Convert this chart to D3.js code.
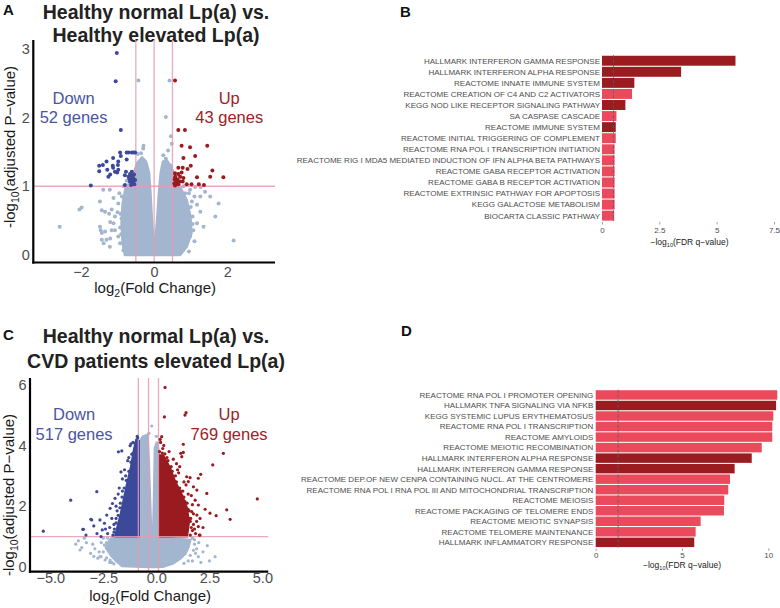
<!DOCTYPE html>
<html><head><meta charset="utf-8">
<script src="https://cdn.jsdelivr.net/npm/d3@7"></script>
<style>
body{margin:0;background:#fff}
svg{display:block;font-family:"Liberation Sans",Arial,Helvetica,sans-serif}
</style>
</head><body>
<svg id="fig" width="780" height="608"></svg>
<script>
// ---------------- DATA ----------------
// Panel A: volcano (Healthy normal vs Healthy elevated)
const titleA = ["Healthy normal Lp(a) vs.", "Healthy elevated Lp(a)"];
const annotA = ["Down", "52 genes", "Up", "43 genes"];
const xTicksA = [-2, 0, 2];
const yTicksA = [0, 1, 2, 3];
const vlinesA = [-0.5, 0, 0.5];
const hlineA = 1;
// dense non-significant cloud outline [log2FC, -log10 p]
const cloudA = [[-0.80,0],[-0.86,0.17],[-0.89,0.46],[-0.86,0.75],[-0.79,0.95],[-0.68,1.05],[-0.55,1.2],[-0.45,1.35],[-0.33,1.42],[-0.22,1.36],[-0.14,1.2],[-0.10,0.9],[-0.06,0.5],[-0.02,0.2],[0,0.1],[0.03,0.2],[0.08,0.5],[0.13,0.9],[0.18,1.2],[0.24,1.36],[0.34,1.38],[0.45,1.3],[0.55,1.18],[0.71,0.99],[0.89,0.80],[0.99,0.56],[1.02,0.32],[0.89,0.12],[0.71,0]];
const nsA = [[-0.43,2.54],[0.42,2.54],[0.32,2.01],[0.46,1.73],[-0.29,1.59],[-0.3,1.55],[-0.45,1.47],[-0.36,1.48],[0.25,1.45],[0.32,1.40],[0.38,1.52],[0.48,1.62],[0.45,1.3],
 [-1.39,0.95],[-1.21,0.95],[-1.48,0.78],[-2.04,0.66],[-1.98,0.69],[-2.58,0.41],[-1.48,0.41],[-1.43,0.32],[-1.30,0.22],[-1.21,0.12],[-1.07,0.36],[-0.98,0.27],[-1.07,0.56],[-1.16,0.66],[-0.98,0.75],[-1.11,0.83],[-0.89,0.53],[-0.84,0.17],[-1.43,0.65],[-1.34,0.63],[-1.23,0.60],[-1.20,0.48],[-1.11,0.46],[-1.16,0.36],[-1.46,0.36],[-1.34,0.34],[-1.43,0.22],[-1.38,0.17],[-1.20,0.24],[-0.93,0.17],[-0.84,0.07],[-0.95,0.9],[-1.0,0.62],[-0.93,0.4],
 [-0.9,0.3],[-0.92,0.6],[-0.88,0.85],[-0.83,1.0],[-0.75,1.08],[1.0,0.7],[1.05,0.45],[0.95,0.9],[0.8,1.0],[0.65,1.1],
 [1.27,0.99],[1.12,0.99],[0.98,0.95],[1.26,0.85],[1.39,0.92],[1.03,0.78],[1.17,0.73],[1.26,0.63],[1.05,0.56],[1.17,0.46],[1.07,0.36],[0.98,0.27],[0.84,0.12],[1.76,0.75],[1.67,0.56],[1.53,0.85],[2.17,0.21],[1.35,0.41],[0.85,0.9],[1.1,0.85],[1.1,0.2],[0.95,0.05]];
const downA = [[-1.02,2.94],[-1.05,2.53],[-0.91,1.82],[-0.93,1.49],[-0.75,1.49],[-0.70,1.49],[-0.61,1.49],[-0.56,1.49],[-0.52,1.49],[-1.12,1.41],[-0.91,1.44],[-0.98,1.36],[-0.75,1.39],[-1.50,1.30],[-1.40,1.31],[-1.30,1.36],[-1.13,1.30],[-0.99,1.31],[-1.50,1.22],[-1.28,1.24],[-1.07,1.21],[-0.98,1.24],[-1.01,1.20],[-1.25,1.14],[-1.20,1.17],[-0.77,1.21],[-0.80,1.16],[-0.70,1.14],[-0.66,1.18],[-0.61,1.15],[-0.57,1.12],[-0.61,1.09],[-0.66,1.07],[-0.57,1.07],[-0.52,1.09],[-0.55,1.17],[-0.61,1.21],[-1.73,1.01],[-0.80,1.02],[-1.12,1.27],[-0.59,1.04],[-0.54,1.03],[-0.63,1.02],[-0.68,1.11]];
const upA = [[0.57,2.54],[0.66,1.82],[0.84,1.82],[0.75,1.59],[0.98,1.57],[1.45,1.59],[0.80,1.41],[1.12,1.44],[0.66,1.27],[0.78,1.27],[0.91,1.25],[1.0,1.30],[1.59,1.23],[0.57,1.19],[0.66,1.18],[0.75,1.20],[0.71,1.14],[0.80,1.12],[1.17,1.13],[1.53,1.14],[1.89,1.13],[0.57,1.12],[0.62,1.07],[0.60,1.03],[0.66,1.03],[0.71,1.07],[0.78,1.07],[0.89,1.03],[1.02,1.03],[1.22,1.03],[1.36,1.02],[0.56,1.10],[0.60,1.08],[0.55,1.04],[0.63,1.10],[0.58,1.14],[0.57,1.01]];

// Panel C: volcano (Healthy normal vs CVD patients elevated)
const titleC = ["Healthy normal Lp(a) vs.", "CVD patients elevated Lp(a)"];
const annotC = ["Down", "517 genes", "Up", "769 genes"];
const xTicksC = [-5, -2.5, 0, 2.5, 5];
const yTicksC = [0, 2, 4, 6];
const vlinesC = [-0.85, -0.37, 0.1];
const hlineC = 1;
const cloudC = [[-0.34,0],[-1.0,0.02],[-1.62,0.03],[-1.90,0.2],[-2.15,0.39],[-2.38,0.63],[-2.22,0.86],[-2.0,1.05],[-1.5,1.15],[-0.82,1.25],[-0.82,4.1],[-0.62,4.3],[-0.42,4.35],[-0.36,3.5],[-0.30,2.2],[-0.25,1.22],[-0.21,0.5],[-0.16,0.9],[-0.11,2.2],[-0.07,3.9],[0.02,4.1],[0.12,3.8],[0.13,0.99],[0.9,0.93],[1.6,0.89],[1.52,0.67],[1.38,0.45],[1.15,0.29],[0.8,0.12],[0.33,0.01],[-0.06,0]];
const massDownC = [[-0.82,1.0],[-0.82,4.15],[-0.95,4.2],[-1.05,3.9],[-1.2,3.3],[-1.4,2.7],[-1.55,2.2],[-1.7,1.7],[-1.85,1.3],[-1.95,1.0]];
const massUpC = [[0.13,1.0],[0.13,3.68],[0.32,3.68],[0.65,3.26],[0.88,2.83],[1.21,2.37],[1.45,1.94],[1.54,1.48],[1.45,1.0]];
const nsC = [[-3.68,0.86],[-3.52,0.64],[-3.6,0.56],[-2.76,0.29],[-2.61,0.34],[-2.42,0.23],[-3.3,0.8],[-3.0,0.75],[-2.9,0.6],[-3.1,0.45],[-2.5,0.95],[-2.6,0.8],[-3.4,0.95],[-3.8,0.75],[-2.2,0.15],[-2.0,0.1],[-2.95,0.35],[-2.7,0.5],[-2.66,0.34],[-2.18,0.23],[-2.35,0.8],
 [-1.6,0.05],[-2.5,0.5],[-2.35,0.3],[-2.1,0.15],[-2.45,0.72],[-2.3,0.95],[1.5,0.2],[1.75,0.55],[1.8,0.75],[1.3,0.12],[1.7,0.95],[1.6,0.38],
 [1.98,0.34],[2.77,0.34],[1.9,0.6],[2.0,0.8],[1.8,0.9],[2.2,0.5],[2.4,0.7],[1.7,0.2],[2.1,0.15],[2.5,0.2],[1.85,0.45],[-0.22,4.64],[-0.35,4.4],[0.0,4.3]];
const downC = [[-5.33,1.18],[-4.04,2.20],[-3.09,1.57],[-3.44,1.24],[-3.32,1.05],[-2.66,1.55],[-2.45,1.44],[-2.55,1.22],[-2.61,1.0],[-2.34,1.71],[-1.63,3.82],[-1.24,3.99],[-1.16,3.71],[-1.67,3.13],[-1.95,2.26],[-2.07,2.09],[-2.18,1.93],[-2.2,1.3],[-2.1,1.6],[-1.9,2.0],[-1.8,2.4],[-1.6,2.9],[-1.5,3.2],[-1.35,3.5],[-1.2,4.05],[-2.3,1.1],[-2.0,1.15],[-1.75,2.6],[-1.45,3.0],[-2.4,1.25],[-2.8,1.1],[-2.95,1.35],[-1.85,1.85],[-1.3,3.6],[-1.1,4.1],[-0.9,4.3],[-1.79,3.79],[-2.81,2.48],[-3.05,1.55],[-3.47,1.24],[-2.0,1.4],[-1.9,1.6],[-1.7,2.1],[-1.6,2.5],
 [-2.05,1.05],[-1.98,1.25],[-1.9,1.45],[-1.8,1.7],[-1.72,1.95],[-1.62,2.3],[-1.52,2.6],[-1.42,2.85],[-1.3,3.15],[-1.2,3.45],[-1.1,3.75],[-1.0,4.05],[-0.88,4.25]];
const upC = [[0.41,5.91],[0.38,4.94],[1.35,5.0],[1.40,5.08],[0.25,4.29],[1.27,4.04],[1.15,3.74],[1.27,3.77],[1.2,3.63],[3.16,3.74],[2.66,3.36],[2.09,3.05],[1.43,2.97],[1.59,2.94],[1.51,2.81],[1.75,2.64],[1.98,2.92],[2.38,2.42],[1.91,2.53],[1.83,2.20],[1.98,2.04],[1.67,1.82],[1.91,1.71],[2.06,1.60],[1.98,1.33],[2.06,1.05],[4.76,2.24],[2.53,1.77],[2.82,1.69],[3.32,1.88],[3.48,1.57],[2.03,1.05],
 [0.3,3.9],[0.2,4.1],[0.5,3.6],[0.7,3.3],[0.9,3.0],[1.1,2.6],[1.3,2.3],[1.5,1.9],[1.6,1.5],[1.7,1.2],[0.6,3.8],[0.95,3.4],[1.05,3.1],[1.25,2.5],[1.45,2.1],[1.55,1.6],[1.75,1.4],[1.85,1.1],[1.1,3.3],[0.8,3.55],[1.65,2.35],[1.4,2.7],[2.2,1.3],[2.3,1.9],[0.15,3.8],[0.18,4.2],[0.28,3.75],[0.35,4.0],
 [0.4,3.72],[0.55,3.5],[0.75,3.15],[0.95,2.8],[1.15,2.5],[1.35,2.15],[1.55,1.85],[1.62,1.6],[1.65,1.3],[1.6,1.05],[1.8,1.25],[1.9,1.5],[1.75,1.75],[1.7,2.05],[1.5,2.4],[1.3,2.8],[1.0,3.2]];

// Panel B: enrichment bars
const catsB = ["HALLMARK INTERFERON GAMMA RESPONSE","HALLMARK INTERFERON ALPHA RESPONSE","REACTOME INNATE IMMUNE SYSTEM","REACTOME CREATION OF C4 AND C2 ACTIVATORS","KEGG NOD LIKE RECEPTOR SIGNALING PATHWAY","SA CASPASE CASCADE","REACTOME IMMUNE SYSTEM","REACTOME INITIAL TRIGGERING OF COMPLEMENT","REACTOME RNA POL I TRANSCRIPTION INITIATION","REACTOME RIG I MDA5 MEDIATED INDUCTION OF IFN ALPHA BETA PATHWAYS","REACTOME GABA RECEPTOR ACTIVATION","REACTOME GABA B RECEPTOR ACTIVATION","REACTOME EXTRINSIC PATHWAY FOR APOPTOSIS","KEGG GALACTOSE METABOLISM","BIOCARTA CLASSIC PATHWAY"];
const valsB = [5.82,3.45,1.41,1.31,1.02,0.63,0.60,0.60,0.55,0.55,0.55,0.55,0.55,0.55,0.53];
const groupB = [1,1,1,0,1,0,1,0,0,0,0,0,0,0,0];
const ticksB = [0, 2.5, 5, 7.5];
const threshB = 0.5;

// Panel D: enrichment bars
const catsD = ["REACTOME RNA POL I PROMOTER OPENING","HALLMARK TNFA SIGNALING VIA NFKB","KEGG SYSTEMIC LUPUS ERYTHEMATOSUS","REACTOME RNA POL I TRANSCRIPTION","REACTOME AMYLOIDS","REACTOME MEIOTIC RECOMBINATION","HALLMARK INTERFERON ALPHA RESPONSE","HALLMARK INTERFERON GAMMA RESPONSE","REACTOME DEP.OF NEW CENPA CONTAINING NUCL. AT THE CENTROMERE","REACTOME RNA POL I RNA POL III AND MITOCHONDRIAL TRANSCRIPTION","REACTOME MEIOSIS","REACTOME PACKAGING OF TELOMERE ENDS","REACTOME MEIOTIC SYNAPSIS","REACTOME TELOMERE MAINTENANCE","HALLMARK INFLAMMATORY RESPONSE"];
const valsD = [10.52,10.45,10.29,10.23,10.23,9.62,9.04,8.05,7.78,7.68,7.45,7.43,6.08,5.79,5.71];
const groupD = [0,1,0,0,0,0,1,1,0,0,0,0,0,0,1];
const ticksD = [0, 5, 10];
const threshD = 1.3;

// ---------------- DRAWING ----------------
const FONT = '"Liberation Sans",Arial,Helvetica,sans-serif';
const GRAY = "#a3b6cf", BLUE = "#3c4899", RED = "#9a1b1f", PINK = "#e79bb1";
const BLUE_T = "#4a55a4", RED_T = "#9c2326";
const DARK_BAR = "#9a1c21", LIGHT_BAR = "#ea4a5b";
const svg = d3.select("#fig");
svg.append("rect").attr("width",780).attr("height",608).attr("fill","#fff");

function panelLetter(t, x, y){
  svg.append("text").attr("x",x).attr("y",y).attr("font-size",15).attr("font-weight","bold").attr("fill","#111").text(t);
}

function volcano(o){
  const g = svg.append("g");
  const x = d3.scaleLinear().domain(o.xd).range(o.xr);
  const y = d3.scaleLinear().domain(o.yd).range(o.yr);
  const poly = d3.line().x(d=>x(d[0])).y(d=>y(d[1])).curve(d3.curveLinearClosed);
  o.title.forEach((t,i)=>{
    g.append("text").attr("x",o.tx).attr("y",o.ty[i]).attr("text-anchor","middle")
     .attr("font-size",19.5).attr("font-weight","bold").attr("fill","#222").text(t);
  });
  g.append("path").attr("d",poly(o.cloud)).attr("fill",GRAY).attr("stroke",GRAY)
   .attr("stroke-width",2.5).attr("stroke-linejoin","round");
  g.selectAll(null).data(o.ns).join("circle").attr("cx",d=>x(d[0])).attr("cy",d=>y(d[1]))
   .attr("r",o.r).attr("fill",GRAY);
  if (o.massDown) g.append("path").attr("d",poly(o.massDown)).attr("fill",BLUE).attr("stroke",BLUE).attr("stroke-width",2).attr("stroke-linejoin","round");
  if (o.massUp) g.append("path").attr("d",poly(o.massUp)).attr("fill",RED).attr("stroke",RED).attr("stroke-width",2).attr("stroke-linejoin","round");
  o.vlines.forEach(v=>{
    g.append("line").attr("x1",x(v)).attr("x2",x(v)).attr("y1",o.yr[1]).attr("y2",o.yr[0])
     .attr("stroke",PINK).attr("stroke-width",1.3).attr("opacity",0.85);
  });
  g.append("line").attr("x1",o.xr[0]).attr("x2",o.xr[1]).attr("y1",y(o.hline)).attr("y2",y(o.hline))
   .attr("stroke",PINK).attr("stroke-width",1.3).attr("opacity",0.85);
  g.selectAll(null).data(o.down).join("circle").attr("cx",d=>x(d[0])).attr("cy",d=>y(d[1])).attr("r",o.r).attr("fill",BLUE);
  g.selectAll(null).data(o.up).join("circle").attr("cx",d=>x(d[0])).attr("cy",d=>y(d[1])).attr("r",o.r).attr("fill",RED);
  const ann = [[o.ann[0],o.ax[0],o.ay[0],BLUE_T],[o.ann[1],o.ax[0],o.ay[1],BLUE_T],[o.ann[2],o.ax[1],o.ay[0],RED_T],[o.ann[3],o.ax[1],o.ay[1],RED_T]];
  ann.forEach(a=>{
    g.append("text").attr("x",x(a[1])).attr("y",y(a[2])).attr("text-anchor","middle")
     .attr("font-size",16.5).attr("fill",a[3]).text(a[0]);
  });
  const ya = g.append("g").attr("transform",`translate(${o.xr[0]},0)`)
    .call(d3.axisLeft(y).tickValues(o.yt).tickSize(0).tickPadding(3.5).tickFormat(d3.format("d")));
  const xa = g.append("g").attr("transform",`translate(0,${o.yr[0]})`)
    .call(d3.axisBottom(x).tickValues(o.xt).tickSize(0).tickPadding(o.xpad).tickFormat(o.xf));
  [ya,xa].forEach(a=>{
    a.select(".domain").remove();
    a.attr("font-family",FONT);
    a.selectAll("text").attr("font-size",14.5).attr("fill","#4d4d4d");
  });
  g.append("line").attr("x1",o.xr[0]).attr("x2",o.xr[0]).attr("y1",o.yr[1]).attr("y2",o.yr[0]+1.1)
   .attr("stroke","#000").attr("stroke-width",2.2);
  g.append("line").attr("x1",o.xr[0]-1.1).attr("x2",o.xr[1]).attr("y1",o.yr[0]).attr("y2",o.yr[0])
   .attr("stroke","#000").attr("stroke-width",2.2);
  const xt = g.append("text").attr("x",(o.xr[0]+o.xr[1])/2+1).attr("y",o.xty).attr("text-anchor","middle")
    .attr("font-size",15).attr("fill","#1a1a1a");
  xt.append("tspan").text("log");
  xt.append("tspan").attr("font-size",10.5).attr("dy",4).text("2");
  xt.append("tspan").attr("dy",-4).text("(Fold Change)");
  const yt = g.append("text").attr("transform",`translate(${o.ytx},${o.yty}) rotate(-90)`).attr("text-anchor","middle")
    .attr("font-size",15).attr("fill","#1a1a1a");
  yt.append("tspan").text("-log");
  yt.append("tspan").attr("font-size",10.5).attr("dy",4).text("10");
  yt.append("tspan").attr("dy",-4).text("(adjusted P\u2212value)");
}

volcano({xd:[-3.3,3.3], xr:[33.3,275], yd:[-0.11,3.13], yr:[262.5,40],
  title:titleA, tx:156, ty:[18.5,41.5], cloud:cloudA, ns:nsA, down:downA, up:upA, r:2,
  vlines:vlinesA, hline:hlineA, ann:annotA, ax:[-2.2,2.05], ay:[2.2,1.92],
  xt:xTicksA, yt:yTicksA, xf:d3.format("d"), xpad:4, xty:293, ytx:15, yty:147});

volcano({xd:[-5.96,5.28], xr:[30,268.3], yd:[-0.155,6.22], yr:[571.7,378],
  title:titleC, tx:156, ty:[342.7,368.3], cloud:cloudC, ns:nsC, massDown:massDownC, massUp:massUpC,
  down:downC, up:upC, r:1.6,
  vlines:vlinesC, hline:hlineC, ann:annotC, ax:[-3.88,3.43], ay:[4.84,4.18],
  xt:xTicksC, yt:yTicksC, xf:d3.format(".1f"), xpad:1.5, xty:601, ytx:14, yty:495});

function bars(o){
  const g = svg.append("g");
  const x = d3.scaleLinear().domain(o.xd).range(o.xr);
  const y = d3.scaleBand().domain(o.cats).range(o.yr).paddingInner(0.1).paddingOuter(0.05);
  g.selectAll(null).data(o.cats).join("rect")
   .attr("x",x(0)).attr("y",d=>y(d)).attr("height",y.bandwidth())
   .attr("width",(d,i)=>x(o.vals[i])-x(0))
   .attr("fill",(d,i)=>o.group[i]?DARK_BAR:LIGHT_BAR);
  g.selectAll(null).data(o.cats).join("text")
   .attr("x",o.lx).attr("y",d=>y(d)+y.bandwidth()/2).attr("dy","0.36em")
   .attr("text-anchor","end").attr("font-size",8).attr("fill","#4d4d4d").text(d=>d);
  g.append("line").attr("x1",x(o.thr)).attr("x2",x(o.thr)).attr("y1",o.yr[0]).attr("y2",o.yr[1])
   .attr("stroke","#5a5a6e").attr("stroke-width",0.8).attr("stroke-dasharray","3,2");
  const ax = g.append("g").attr("transform",`translate(0,${o.yr[1]+0.8})`)
   .call(d3.axisBottom(x).tickValues(o.ticks).tickSize(2.5).tickPadding(o.tp).tickFormat(d3.format("~g")));
  ax.select(".domain").remove();
  ax.attr("font-family",FONT);
  ax.selectAll("line").attr("stroke","#8a8a8a").attr("stroke-width",0.8);
  ax.selectAll("text").attr("font-size",8).attr("fill","#4d4d4d");
  const t = g.append("text").attr("x",o.tx).attr("y",o.ty).attr("text-anchor","middle").attr("font-size",8.5).attr("fill","#1a1a1a");
  t.append("tspan").text("\u2212log");
  t.append("tspan").attr("font-size",5.5).attr("dy",2).text("10");
  t.append("tspan").attr("dy",-2).text("(FDR q\u2212value)");
}

bars({cats:catsB, vals:valsB, group:groupB, xd:[0,7.5], xr:[602,774], yr:[55.2,221.2],
  lx:600, thr:threshB, ticks:ticksB, tp:3, tx:689.5, ty:245});
bars({cats:catsD, vals:valsD, group:groupD, xd:[0,10], xr:[595.7,768.3], yr:[389.7,547.6],
  lx:593.3, thr:threshD, ticks:ticksD, tp:1.5, tx:682, ty:567.5});

panelLetter("A", 3, 15);
panelLetter("B", 400, 17);
panelLetter("C", 3, 340);
panelLetter("D", 401, 336);
</script>
</body></html>
